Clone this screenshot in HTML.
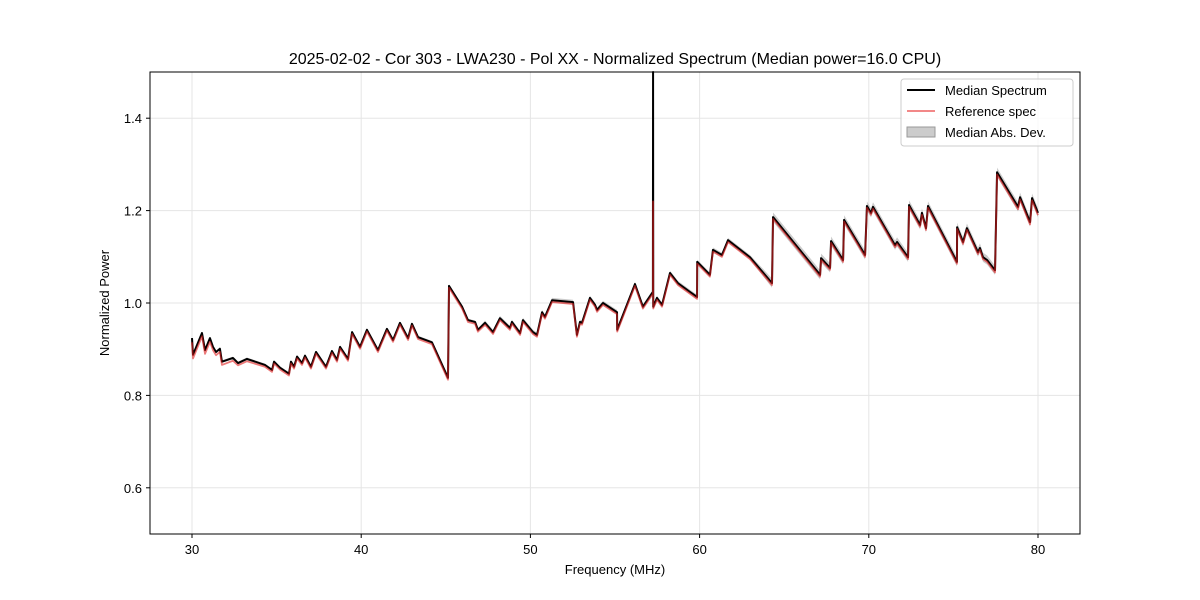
<!DOCTYPE html>
<html><head><meta charset="utf-8"><style>
body{margin:0;background:#fff;}
svg{display:block;font-family:"Liberation Sans","DejaVu Sans",sans-serif;}
</style></head><body>
<svg id="chart" width="1200" height="600" xmlns="http://www.w3.org/2000/svg">
<rect width="1200" height="600" fill="#fff"/>
<text x="615" y="64" font-size="16" text-anchor="middle">2025-02-02 - Cor 303 - LWA230 - Pol XX - Normalized Spectrum (Median power=16.0 CPU)</text>
<g id="grid"></g>
<g id="plot"></g>
<rect x="150" y="72" width="930" height="462" fill="none" stroke="#000" stroke-width="1"/>
<g id="ticks"></g>
<text x="615" y="574" font-size="13" text-anchor="middle">Frequency (MHz)</text>
<text x="0" y="0" font-size="13" text-anchor="middle" transform="translate(109,303) rotate(-90)">Normalized Power</text>
<g>
<rect x="901" y="79" width="172" height="67" rx="3" fill="#fff" fill-opacity="0.8" stroke="#ccc"/>
<line x1="907" y1="90" x2="935" y2="90" stroke="#000" stroke-width="2"/>
<text x="945" y="95" font-size="13">Median Spectrum</text>
<line x1="907" y1="111" x2="935" y2="111" stroke="#e83a3a" stroke-opacity="0.8" stroke-width="1.5"/>
<text x="945" y="116" font-size="13">Reference spec</text>
<rect x="907" y="127" width="28" height="10" fill="#999" fill-opacity="0.5" stroke="#999"/>
<text x="945" y="137" font-size="13">Median Abs. Dev.</text>
</g>
</svg>
<script>
const freqs=[30.00,30.06,30.59,30.77,31.06,31.24,31.42,31.65,31.77,32.42,32.72,33.25,34.31,34.73,34.85,35.20,35.73,35.85,36.03,36.21,36.50,36.68,37.03,37.33,37.92,38.27,38.57,38.75,39.22,39.46,39.93,40.34,40.99,41.52,41.88,42.29,42.77,43.00,43.36,44.18,45.13,45.19,45.96,46.31,46.73,46.90,47.32,47.79,48.20,48.79,48.91,49.39,49.56,50.15,50.39,50.69,50.86,51.28,52.52,52.75,52.93,53.05,53.52,53.82,53.94,54.29,55.12,55.13,56.18,56.65,57.24,57.25,57.26,57.48,57.78,58.25,58.72,59.43,59.85,59.86,60.61,60.79,61.32,61.68,62.98,64.28,64.34,67.12,67.18,67.71,67.77,68.48,68.54,69.78,69.89,70.13,70.25,71.55,71.67,72.32,72.38,73.03,73.14,73.38,73.50,75.21,75.22,75.57,75.80,76.45,76.57,76.75,76.99,77.46,77.58,78.82,78.94,79.53,79.65,80.00];
const medianVals=[0.924,0.888,0.935,0.898,0.924,0.905,0.894,0.901,0.873,0.881,0.870,0.879,0.866,0.855,0.873,0.860,0.847,0.873,0.862,0.884,0.870,0.886,0.862,0.894,0.862,0.896,0.877,0.905,0.879,0.937,0.905,0.942,0.898,0.944,0.920,0.957,0.924,0.955,0.926,0.915,0.838,1.037,0.992,0.963,0.959,0.942,0.957,0.937,0.967,0.946,0.959,0.935,0.963,0.937,0.931,0.980,0.970,1.006,1.002,0.931,0.959,0.957,1.011,0.996,0.985,1.000,0.980,0.942,1.041,0.992,1.024,1.600,0.992,1.011,0.996,1.065,1.043,1.024,1.013,1.089,1.061,1.115,1.104,1.136,1.099,1.043,1.186,1.061,1.097,1.076,1.134,1.093,1.180,1.104,1.210,1.195,1.208,1.125,1.132,1.099,1.212,1.169,1.195,1.162,1.210,1.089,1.164,1.132,1.162,1.110,1.119,1.099,1.093,1.071,1.283,1.208,1.229,1.175,1.227,1.195];
const refVals=[0.915,0.880,0.928,0.890,0.916,0.898,0.887,0.894,0.866,0.875,0.865,0.874,0.862,0.851,0.869,0.856,0.843,0.869,0.858,0.880,0.866,0.882,0.858,0.890,0.858,0.892,0.873,0.901,0.875,0.933,0.901,0.938,0.894,0.940,0.916,0.953,0.920,0.951,0.922,0.911,0.834,1.033,0.988,0.959,0.955,0.938,0.953,0.933,0.963,0.942,0.955,0.931,0.959,0.933,0.927,0.976,0.966,1.002,0.998,0.927,0.955,0.953,1.007,0.992,0.981,0.996,0.976,0.938,1.037,0.988,1.020,1.220,0.988,1.007,0.992,1.061,1.039,1.020,1.009,1.085,1.057,1.111,1.100,1.132,1.095,1.039,1.182,1.057,1.093,1.072,1.130,1.089,1.176,1.100,1.206,1.191,1.204,1.121,1.128,1.095,1.208,1.165,1.191,1.158,1.206,1.085,1.160,1.128,1.158,1.106,1.115,1.095,1.089,1.066,1.278,1.203,1.224,1.170,1.222,1.190];
const madVals=[0.003,0.005,0.010];
const xTicks=[30,40,50,60,70,80];
const yTicks=[0.6,0.8,1.0,1.2,1.4];
const yTickLabels=["0.6","0.8","1.0","1.2","1.4"];

const NS="http://www.w3.org/2000/svg";
const X=f=>192+(f-30)*16.92;
const Y=v=>534-(v-0.5)*462;
const clipY=v=>Math.max(72,Y(v));
function mk(tag,attrs,parent){const e=document.createElementNS(NS,tag);for(const k in attrs)e.setAttribute(k,attrs[k]);parent.appendChild(e);return e;}
const grid=document.getElementById('grid'),ticks=document.getElementById('ticks'),plot=document.getElementById('plot');
xTicks.forEach(t=>{
  const g=mk('line',{x1:X(t),x2:X(t),y1:72,y2:534,stroke:'#e5e5e5','stroke-width':1},grid);
  
  
  const l=mk('line',{x1:X(t),x2:X(t),y1:534,y2:538,stroke:'#000'},ticks);
  
  
  const tx=mk('text',{x:X(t),y:554,'font-size':13,'text-anchor':'middle'},ticks);tx.textContent=t;
  
  
});
yTicks.forEach((t,i)=>{
  const g=mk('line',{x1:150,x2:1080,y1:Y(t),y2:Y(t),stroke:'#e5e5e5','stroke-width':1},grid);
  
  
  const l=mk('line',{x1:146,x2:150,y1:Y(t),y2:Y(t),stroke:'#000'},ticks);
  
  
  const tx=mk('text',{x:142,y:Y(t)+5,'font-size':13,'text-anchor':'end'},ticks);tx.textContent=yTickLabels[i];
  
  
});
let up=[],dn=[];
freqs.forEach((f,i)=>{const m=madVals[Math.min(2,Math.floor((f-30)/17))];const v=Math.min(medianVals[i],1.3);up.push(X(f)+','+clipY(v+m));dn.unshift(X(f)+','+clipY(v-m));});
const band=mk('polygon',{points:up.concat(dn).join(' '),fill:'#999','fill-opacity':0.5,stroke:'none'},plot);


const med=mk('polyline',{points:freqs.map((f,i)=>X(f)+','+clipY(medianVals[i])).join(' '),fill:'none',stroke:'#000','stroke-width':2,'stroke-linejoin':'round'},plot);


const ref=mk('polyline',{points:freqs.map((f,i)=>X(f)+','+clipY(refVals[i])).join(' '),fill:'none',stroke:'#e02020','stroke-opacity':0.6,'stroke-width':1.8,'stroke-linejoin':'round'},plot);


</script>
</body></html>
